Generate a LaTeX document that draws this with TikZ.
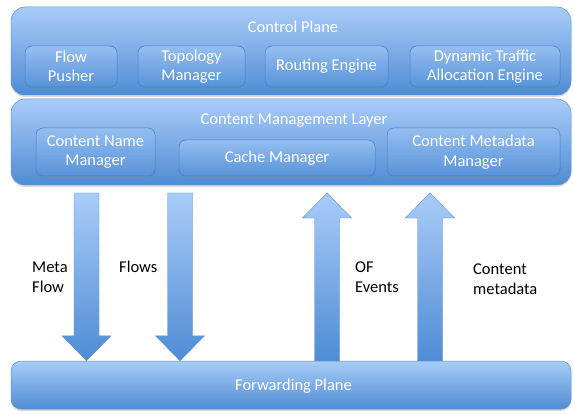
\documentclass[tikz,border=0pt]{standalone}
\usepackage{fontspec}
\setmainfont{Carlito}
\usepackage{xcolor}
\usetikzlibrary{calc,shadows}

\definecolor{lightblue}{HTML}{A9CCF8}
\definecolor{darkblue}{HTML}{4F8CD4}
\definecolor{rimblue}{HTML}{5B8ECF}
\definecolor{subtop}{HTML}{94BEF1}
\definecolor{subbot}{HTML}{5893D8}
\definecolor{subrim}{HTML}{4A7EC0}

\newcommand{\labfont}{\fontsize{16.5}{19.5}\selectfont}

% block arrow from #1 to #2 (vertical)
\newcommand{\blockarrow}[2]{%
  \path[barrow] let \p1=(#1), \p2=(#2), \n1={sign(\y2-\y1)} in
    (\x1-12.5pt,\y1) -- (\x1+12.5pt,\y1) -- (\x1+12.5pt,\y2-\n1*25pt)
    -- (\x1+24.5pt,\y2-\n1*25pt) -- (\x2,\y2) -- (\x1-24.5pt,\y2-\n1*25pt)
    -- (\x1-12.5pt,\y2-\n1*25pt) -- cycle;}

\begin{document}
\begin{tikzpicture}[x=1pt, y=1pt,
  layer/.style={rectangle, rounded corners=14pt, draw=rimblue, line width=0.5pt,
    top color=lightblue, bottom color=darkblue, inner sep=0pt,
    drop shadow={opacity=0.3, shadow xshift=0pt, shadow yshift=-2pt}},
  module/.style={rectangle, rounded corners=7pt, draw=subrim, line width=0.5pt,
    top color=subtop, bottom color=subbot, inner sep=0pt, align=center,
    text=white, font=\labfont,
    drop shadow={opacity=0.3, shadow xshift=0pt, shadow yshift=-1.5pt}},
  title/.style={text=white, font=\labfont, inner sep=0pt, anchor=base},
  lab/.style={font=\labfont, align=left, inner sep=0pt, anchor=north west},
  barrow/.style={draw=rimblue, line width=0.4pt, top color=lightblue, bottom color=darkblue}
]
\useasboundingbox (0,0) rectangle (573,413);

% Control plane (top)
\node[layer, minimum width=560pt, minimum height=88pt] (cp) at (291,362) {};
\node[title] (cp_title) at (293,380.5) {Control Plane};
\node[module, minimum width=92pt, minimum height=41pt] (pusher) at (71,346.5) {Flow\\Pusher};
\node[module, minimum width=107pt, minimum height=41pt] (topo) at (191.5,346.5) {Topology\\Manager};
\node[module, minimum width=123pt, minimum height=41pt] (routing) at (326.5,346.5) {Routing Engine};
\node[module, minimum width=150pt, minimum height=41pt] (dtae) at (485,346.5) {Dynamic Traffic\\Allocation Engine};

% Content management layer
\node[layer, minimum width=560pt, minimum height=86pt] (cml) at (291,271) {};
\node[title] (cml_title) at (294,288.5) {Content Management Layer};
\node[module, minimum width=119pt, minimum height=48pt] (cnm) at (95.5,261) {Content Name\\Manager};
\node[module, minimum width=196pt, minimum height=36pt] (cache) at (277,255) {Cache Manager};
\node[module, minimum width=173pt, minimum height=48pt] (cmm) at (473.5,261) {Content Metadata\\Manager};

% Forwarding plane (bottom)
\node[layer, rounded corners=10pt, minimum width=560pt, minimum height=48pt] (fwd) at (291,28) {};
\node[title] (fwd_title) at (293.5,22.5) {Forwarding Plane};

% Arrows between the layers
\coordinate (mf_a) at (86.5,220);
\coordinate (mf_b) at (86.5,0 |- fwd.north);
\coordinate (fl_a) at (180,220);
\coordinate (fl_b) at (180,0 |- fwd.north);
\coordinate (of_a) at (327,0 |- fwd.north);
\coordinate (of_b) at (327,220);
\coordinate (md_a) at (430,0 |- fwd.north);
\coordinate (md_b) at (430,220);

\blockarrow{mf_a}{mf_b}
\blockarrow{fl_a}{fl_b}
\blockarrow{of_a}{of_b}
\blockarrow{md_a}{md_b}

\node[lab] (mf_label) at (32,154.2) {\strut Meta\\Flow};
\node[lab] (fl_label) at (119,154.2) {\strut Flows};
\node[lab] (of_label) at (355,154.2) {\strut OF\\Events};
\node[lab] (md_label) at (473,152.2) {\strut Content\\metadata};

\end{tikzpicture}
\end{document}
